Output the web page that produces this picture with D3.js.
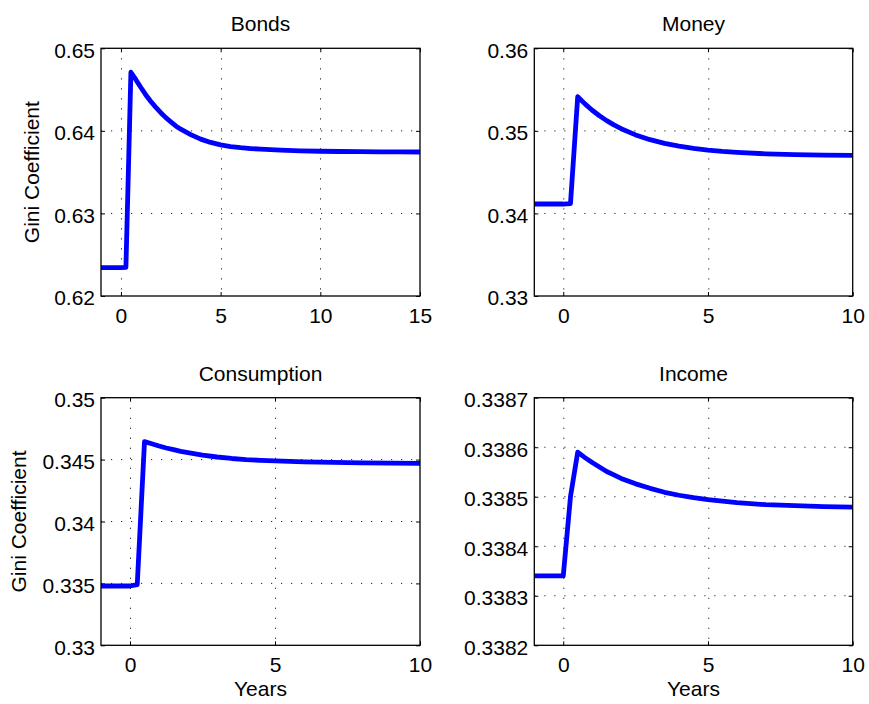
<!DOCTYPE html>
<html>
<head>
<meta charset="utf-8">
<script src="https://cdn.jsdelivr.net/npm/d3@7"></script>
<style>
  html, body { margin: 0; padding: 0; background: #fff; }
  svg { display: block; font-family: "Liberation Sans", Arial, Helvetica, sans-serif; }
</style>
</head>
<body>
<svg id="chart" width="869" height="704"></svg>
<script>
// Gini coefficient responses after the shock (time in years)
const bondsYears = [-1, 0, 0.25, 0.5, 0.75, 1, 1.25, 1.5, 1.75, 2, 2.25, 2.5, 2.75, 3, 3.5, 4, 4.5, 5, 5.5, 6, 6.5, 7, 8, 9, 10, 11, 12, 13, 14, 15];
const bondsGini = [0.62343, 0.62343, 0.62348, 0.64710, 0.64620, 0.64525, 0.64435, 0.64355, 0.64285, 0.64220,
                   0.64160, 0.64110, 0.64060, 0.64020, 0.63955, 0.63900, 0.63860, 0.63830, 0.63810, 0.63796,
                   0.63786, 0.63778, 0.63766, 0.63758, 0.63753, 0.63750, 0.63748, 0.63746, 0.63745, 0.63744];

const years = [-1, 0, 0.25, 0.5, 0.75, 1, 1.25, 1.5, 1.75, 2, 2.5, 3, 3.5, 4, 4.5, 5, 5.5, 6, 7, 8, 9, 10];
const moneyGini = [0.34114, 0.34114, 0.34120, 0.35414, 0.35327, 0.35250, 0.35183, 0.35124, 0.35072, 0.35026, 0.34951,
                   0.34893, 0.34849, 0.34814, 0.34787, 0.34767, 0.34751, 0.34739, 0.34722, 0.34712, 0.34707, 0.34703];
const consumptionGini = [0.33479, 0.33479, 0.33490, 0.34645, 0.34628, 0.34610, 0.34594, 0.34580, 0.34567, 0.34556, 0.34536,
                         0.34521, 0.34509, 0.34500, 0.34494, 0.34489, 0.34485, 0.34482, 0.34477, 0.34474, 0.34472, 0.34470];
const incomeGini = [0.33834, 0.33834, 0.33850, 0.33859, 0.338579, 0.338569, 0.338560, 0.338551, 0.338544, 0.338537, 0.338526,
                    0.338517, 0.338509, 0.338503, 0.338498, 0.338494, 0.338491, 0.338488, 0.338484, 0.338482, 0.338480, 0.338479];

// Axis ticks and labels
const bondsYTicks = [0.62, 0.63, 0.64, 0.65];
const bondsYLabels = ["0.62", "0.63", "0.64", "0.65"];
const moneyYTicks = [0.33, 0.34, 0.35, 0.36];
const moneyYLabels = ["0.33", "0.34", "0.35", "0.36"];
const consumptionYTicks = [0.33, 0.335, 0.34, 0.345, 0.35];
const consumptionYLabels = ["0.33", "0.335", "0.34", "0.345", "0.35"];
const incomeYTicks = [0.3382, 0.3383, 0.3384, 0.3385, 0.3386, 0.3387];
const incomeYLabels = ["0.3382", "0.3383", "0.3384", "0.3385", "0.3386", "0.3387"];
const bondsXTicks = [0, 5, 10, 15];
const xTicks = [0, 5, 10];

const titles = ["Bonds", "Money", "Consumption", "Income"];
const yAxisTitle = "Gini Coefficient";
const xAxisTitle = "Years";

// Panel layout (pixel boxes of the four axes)
const panels = [
  { title: titles[0], t: bondsYears, v: bondsGini, xDom: [-1, 15], yDom: [0.62, 0.65], yT: bondsYTicks, yL: bondsYLabels, xT: bondsXTicks,
    box: { x: 101, y: 48.3, w: 319, h: 247.7 }, yTitleX: 39, xTitle: false },
  { title: titles[1], t: years, v: moneyGini, xDom: [-1, 10], yDom: [0.33, 0.36], yT: moneyYTicks, yL: moneyYLabels, xT: xTicks,
    box: { x: 534.3, y: 48.3, w: 318.4, h: 247.7 }, yTitleX: null, xTitle: false },
  { title: titles[2], t: years, v: consumptionGini, xDom: [-1, 10], yDom: [0.33, 0.35], yT: consumptionYTicks, yL: consumptionYLabels, xT: xTicks,
    box: { x: 101, y: 397.7, w: 319, h: 247.6 }, yTitleX: 26, xTitle: true },
  { title: titles[3], t: years, v: incomeGini, xDom: [-1, 10], yDom: [0.3382, 0.3387], yT: incomeYTicks, yL: incomeYLabels, xT: xTicks,
    box: { x: 534.3, y: 397.7, w: 318.4, h: 247.6 }, yTitleX: null, xTitle: true }
];

const FS = 21;
const svg = d3.select("#chart");

panels.forEach(p => {
  const { x: bx, y: by, w, h } = p.box;
  const g = svg.append("g").attr("transform", `translate(${bx},${by})`);
  const x = d3.scaleLinear().domain(p.xDom).range([0, w]);
  const y = d3.scaleLinear().domain(p.yDom).range([h, 0]);

  // dotted grid
  const grid = g.append("g").attr("stroke", "#222").attr("stroke-width", 1).attr("stroke-dasharray", "1.2,8.8");
  p.xT.filter(d => d > p.xDom[0] && d < p.xDom[1]).forEach(d => {
    const xx = Math.round(x(d)) + 0.5;
    grid.append("line").attr("x1", xx).attr("x2", xx).attr("y1", 0).attr("y2", h);
  });
  p.yT.filter(d => d > p.yDom[0] && d < p.yDom[1]).forEach(d => {
    const yy = y(d);
    grid.append("line").attr("x1", 0).attr("x2", w).attr("y1", yy).attr("y2", yy);
  });

  // axes with inward ticks
  const left = g.append("g").call(d3.axisLeft(y).tickValues(p.yT).tickFormat((d, i) => p.yL[i]).tickSize(-4).tickPadding(6));
  const right = g.append("g").attr("transform", `translate(${w},0)`).call(d3.axisRight(y).tickValues(p.yT).tickFormat("").tickSize(-4));
  const bottom = g.append("g").attr("transform", `translate(0,${h})`).call(d3.axisBottom(x).tickValues(p.xT).tickSize(-4).tickPadding(12));
  const top = g.append("g").call(d3.axisTop(x).tickValues(p.xT).tickFormat("").tickSize(-4));
  [left, right, bottom, top].forEach(a => {
    a.select(".domain").remove();
    a.selectAll("line").attr("stroke", "#000").attr("stroke-width", 1);
    a.selectAll("text").attr("font-size", FS).attr("font-family", "Liberation Sans, Arial, sans-serif").attr("fill", "#000");
  });
  left.selectAll("text").attr("dy", "0.42em");

  // data line
  const line = d3.line().x((d, i) => x(p.t[i])).y(d => y(d));
  g.append("path")
    .datum(p.v)
    .attr("d", line)
    .attr("fill", "none")
    .attr("stroke", "#0000ff")
    .attr("stroke-width", 4.8)
    .attr("stroke-linejoin", "round");

  // frame
  g.append("rect").attr("x", 0).attr("y", 0).attr("width", w).attr("height", h)
    .attr("fill", "none").attr("stroke", "#000").attr("stroke-width", 1.3);

  // title
  g.append("text").attr("x", w / 2).attr("y", -17).attr("text-anchor", "middle")
    .attr("font-size", FS).text(p.title);

  if (p.yTitleX !== null) {
    svg.append("text")
      .attr("transform", `translate(${p.yTitleX},${by + h / 2}) rotate(-90)`)
      .attr("text-anchor", "middle").attr("font-size", FS).text(yAxisTitle);
  }
  if (p.xTitle) {
    g.append("text").attr("x", w / 2).attr("y", h + 51).attr("text-anchor", "middle")
      .attr("font-size", FS).text(xAxisTitle);
  }
});
</script>
</body>
</html>
